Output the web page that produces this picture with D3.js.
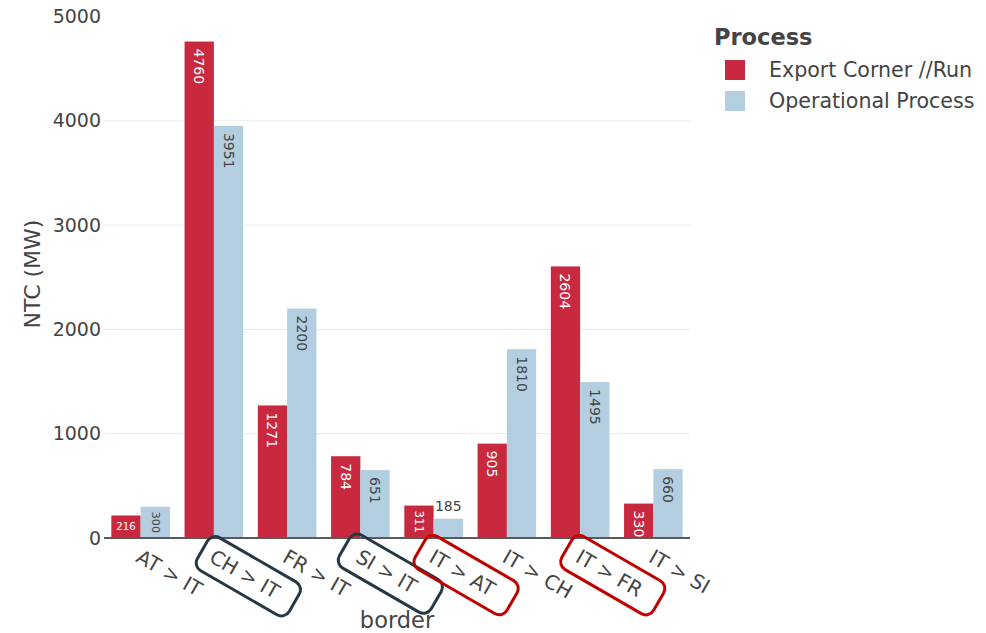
<!DOCTYPE html>
<html>
<head>
<meta charset="utf-8">
<script src="https://cdn.jsdelivr.net/npm/d3@7"></script>
<style>
  html, body { margin: 0; padding: 0; background: #fff; }
  svg { display: block; font-family: "DejaVu Sans", Verdana, sans-serif; }
</style>
</head>
<body>
<svg id="chart" width="986" height="633"></svg>
<script>
// ---- data ----
const categories = ["AT > IT", "CH > IT", "FR > IT", "SI > IT", "IT > AT", "IT > CH", "IT > FR", "IT > SI"];
const seriesNames = ["Export Corner //Run", "Operational Process"];
const exportCorner = [216, 4760, 1271, 784, 311, 905, 2604, 330];
const operational = [300, 3951, 2200, 651, 185, 1810, 1495, 660];
const yTicks = [0, 1000, 2000, 3000, 4000, 5000];
const highlightDark = ["CH > IT", "SI > IT"];
const highlightRed = ["IT > AT", "IT > FR"];

// ---- styles ----
const colors = ["#C8293F", "#B3CEE0"];
const textInside = ["#ffffff", "#444444"];
const axisColor = "#444444";

const svg = d3.select("#chart");
const plot = { left: 104, right: 690, top: 16, bottom: 538 };

const x = d3.scaleBand().domain(categories).range([plot.left, plot.right]).paddingInner(0).paddingOuter(0);
const bw = x.bandwidth();
const x1 = d3.scaleBand().domain([0, 1]).range([bw * 0.1, bw * 0.9]).padding(0);
const y = d3.scaleLinear().domain([0, 5005]).range([plot.bottom, plot.top]);

// gridlines
svg.append("g").selectAll("line").data(yTicks.filter(t => t > 0 && t < 5000)).join("line")
  .attr("x1", plot.left).attr("x2", plot.right)
  .attr("y1", d => y(d)).attr("y2", d => y(d))
  .attr("stroke", "#eaeaea").attr("stroke-width", 1);

// y tick labels
const yAxis = d3.axisLeft(y).tickValues(yTicks).tickFormat(d3.format("d")).tickSize(0).tickPadding(3);
const yg = svg.append("g").attr("transform", `translate(${plot.left - 0},0)`).call(yAxis);
yg.select(".domain").remove();
yg.selectAll("text").attr("font-size", 19).attr("fill", axisColor)
  .attr("font-family", "DejaVu Sans, Verdana, sans-serif");

// bars
const rows = categories.map((c, i) => ({ cat: c, vals: [exportCorner[i], operational[i]] }));
const groups = svg.append("g").selectAll("g").data(rows).join("g")
  .attr("transform", d => `translate(${x(d.cat)},0)`);

const bars = groups.selectAll("g.bar").data(d => d.vals.map((v, s) => ({ v, s }))).join("g").attr("class", "bar");
bars.append("rect")
  .attr("x", d => x1(d.s))
  .attr("width", x1.bandwidth())
  .attr("y", d => y(d.v))
  .attr("height", d => y(0) - y(d.v))
  .attr("fill", d => colors[d.s]);

// bar labels (plotly-like 'auto' placement)
const baseFont = 14;
const digitW = 0.636;
bars.each(function(d) {
  const g = d3.select(this);
  const txt = String(d.v);
  const tw = txt.length * digitW * baseFont;
  const th = baseFont * 1.2;
  const barW = x1.bandwidth();
  const h = y(0) - y(d.v);
  const cx = x1(d.s) + barW / 2;
  const top = y(d.v);
  const pad = 3;
  const bwi = barW - 2 * pad, bhi = h - 2 * pad;
  const fitsRot = tw <= bhi && th <= bwi;
  const fitsShrunk = bhi >= th * (bwi / tw);
  if (fitsRot) {
    g.append("text").text(txt)
      .attr("transform", `translate(${cx},${top + 7}) rotate(90)`)
      .attr("text-anchor", "start").attr("dominant-baseline", "central")
      .attr("font-size", baseFont).attr("fill", textInside[d.s]);
  } else if (fitsShrunk) {
    const bw2 = barW - 10, bh2 = h - 10;
    const sH = Math.min(bw2 / tw, bh2 / th);
    const sR = Math.min(bh2 / tw, bw2 / th);
    const rot = sR > sH;
    const s = Math.max(sH, sR);
    g.append("text").text(txt)
      .attr("transform", `translate(${cx},${top + h / 2})` + (rot ? " rotate(90)" : ""))
      .attr("text-anchor", "middle").attr("dominant-baseline", "central")
      .attr("font-size", baseFont * s).attr("fill", textInside[d.s]);
  } else {
    g.append("text").text(txt)
      .attr("x", cx).attr("y", top - 8)
      .attr("text-anchor", "middle")
      .attr("font-size", baseFont).attr("fill", axisColor);
  }
});

// zero line
svg.append("line")
  .attr("x1", plot.left).attr("x2", plot.right)
  .attr("y1", y(0)).attr("y2", y(0))
  .attr("stroke", "#5a5a5a").attr("stroke-width", 2);

// x tick labels (angled) + highlight boxes
const xt = svg.append("g").selectAll("g").data(categories).join("g")
  .attr("transform", d => `translate(${x(d) + bw / 2 - 6},${plot.bottom + 23}) rotate(30)`);
xt.append("text").text(d => d)
  .attr("text-anchor", "start")
  .attr("font-size", 20).attr("fill", axisColor);
xt.each(function(d) {
  let col = null;
  if (highlightDark.includes(d)) col = "#263846";
  if (highlightRed.includes(d)) col = "#C00000";
  if (!col) return;
  const g = d3.select(this);
  const bb = g.select("text").node().getBBox();
  const cxl = bb.x + bb.width / 2 + 4;
  const cyl = -7;
  const W = 106, H = 38;
  g.append("rect")
    .attr("x", cxl - W / 2).attr("y", cyl - H / 2)
    .attr("width", W).attr("height", H)
    .attr("rx", 9).attr("ry", 9)
    .attr("fill", "none").attr("stroke", col).attr("stroke-width", 3);
});

// axis titles
svg.append("text").text("border")
  .attr("x", (plot.left + plot.right) / 2).attr("y", 628)
  .attr("text-anchor", "middle").attr("font-size", 22.5).attr("fill", axisColor);
svg.append("text").text("NTC (MW)")
  .attr("transform", `translate(32,${(plot.top + plot.bottom) / 2 - 3}) rotate(-90)`)
  .attr("text-anchor", "middle").attr("dominant-baseline", "central")
  .attr("font-size", 22).attr("fill", axisColor);

// legend
const lg = svg.append("g");
lg.append("text").text("Process").attr("x", 714).attr("y", 45)
  .attr("font-size", 22.5).attr("font-weight", "bold").attr("fill", axisColor);
const li = lg.selectAll("g.item").data(seriesNames).join("g").attr("class", "item")
  .attr("transform", (d, i) => `translate(0,${70 + i * 31})`);
li.append("rect").attr("x", 725).attr("y", -10).attr("width", 20).attr("height", 20)
  .attr("fill", (d, i) => colors[i]);
li.append("text").text(d => d).attr("x", 769).attr("y", 7)
  .attr("font-size", 20.6).attr("fill", axisColor);
</script>
</body>
</html>
